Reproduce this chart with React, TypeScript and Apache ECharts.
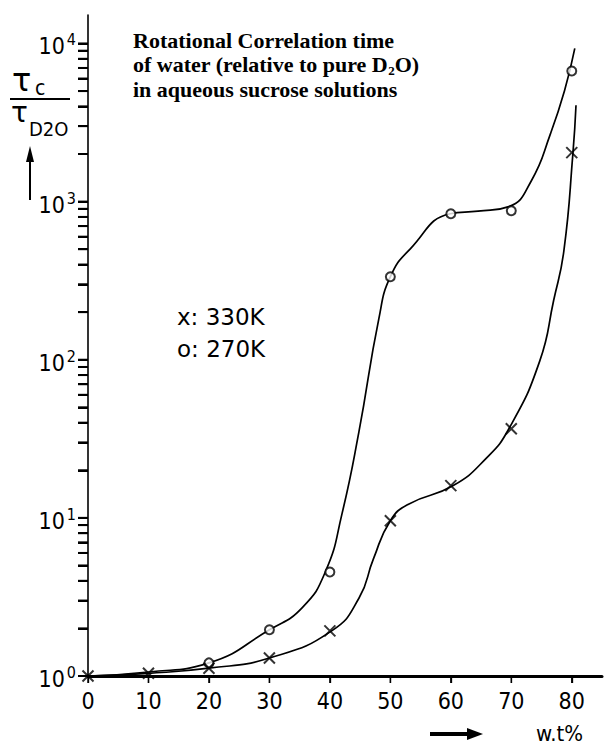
import React, { useEffect, useRef } from "react";
import * as echarts from "echarts";

// x axis (wt %) tick labels
const wtTicks = [0, 10, 20, 30, 40, 50, 60, 70, 80];
// y axis decades (exponent of 10)
const yDecades = [0, 1, 2, 3, 4];
// minor tick multipliers within each decade
const minorMult = [2, 3, 4, 5, 6, 7, 8, 9];

// measured points, 330 K (crosses)
const wt330 = [0, 10, 20, 30, 40, 50, 60, 70, 80];
const tau330 = [1.0, 1.04, 1.12, 1.3, 1.93, 9.6, 16, 36.6, 2040];

// measured points, 270 K (circles)
const wt270 = [20, 30, 40, 50, 60, 70, 80];
const tau270 = [1.21, 1.96, 4.55, 335, 838, 875, 6700];

// hand-drawn curves
const curve270Wt = [0, 10, 20, 30, 35.4, 39.3, 42, 44.8, 48.1, 50, 53.3, 59.9, 64.5, 69.6, 73.3, 76.5, 78.8, 80.5];
const curve270Tau = [1.0, 1.06, 1.21, 1.96, 2.7, 4.6, 10.6, 35, 182, 335, 503, 838, 870, 930, 1350, 2700, 5020, 9300];

const curve330Wt = [0, 10, 20, 30, 40.3, 44.8, 47.2, 50, 53, 60.4, 65.8, 69.6, 74.7, 77, 78.7, 80.2, 80.7];
const curve330Tau = [1.0, 1.04, 1.12, 1.3, 1.93, 3.1, 5.5, 9.6, 12.2, 16, 23.7, 36.6, 98, 237, 490, 2040, 4070];

const FONT = "DejaVu Sans Condensed, DejaVu Sans, sans-serif";
const SANS = "DejaVu Sans, sans-serif";
const SERIF = "Liberation Serif, DejaVu Serif, serif";

const lg = (v: number) => Math.log10(v);

const graphicEls: any[] = [
  {
    type: "text",
    x: 133,
    y: 28,
    style: {
      text: "Rotational Correlation time\nof water (relative to pure D{sub|2}O)\nin aqueous sucrose solutions",
      fontFamily: SERIF,
      fontWeight: "bold",
      fontSize: 22,
      lineHeight: 24.5,
      fill: "#000",
      verticalAlign: "top",
      rich: {
        sub: { fontFamily: SERIF, fontWeight: "bold", fontSize: 13, lineHeight: 14, verticalAlign: "bottom" },
      },
    },
  },
  { type: "text", x: 177, y: 316.5, style: { text: "x: 330K", fontFamily: SANS, fontSize: 23, fill: "#000", verticalAlign: "middle" } },
  { type: "text", x: 177, y: 348.5, style: { text: "o: 270K", fontFamily: SANS, fontSize: 23, fill: "#000", verticalAlign: "middle" } },
  // y-axis name: tau_c / tau_D2O with upward arrow
  { type: "text", x: 12, y: 80, style: { text: "τ", fontFamily: SANS, fontSize: 32, fill: "#000", verticalAlign: "middle" } },
  { type: "text", x: 35, y: 88, style: { text: "c", fontFamily: FONT, fontSize: 21, fill: "#000", verticalAlign: "middle" } },
  { type: "line", shape: { x1: 10, y1: 99, x2: 70, y2: 99 }, style: { stroke: "#000", lineWidth: 2 } },
  { type: "text", x: 11, y: 112, style: { text: "τ", fontFamily: SANS, fontSize: 28, fill: "#000", verticalAlign: "middle" } },
  { type: "text", x: 29, y: 129, style: { text: "D2O", fontFamily: FONT, fontSize: 20, fill: "#000", verticalAlign: "middle" } },
  { type: "line", shape: { x1: 30, y1: 158, x2: 30, y2: 200 }, style: { stroke: "#000", lineWidth: 2 } },
  { type: "polygon", shape: { points: [[26, 162], [34, 162], [30, 146]] }, style: { fill: "#000" } },
  // x-axis name with arrow
  { type: "line", shape: { x1: 430, y1: 734, x2: 470, y2: 734 }, style: { stroke: "#000", lineWidth: 4 } },
  { type: "polygon", shape: { points: [[467, 728], [483, 734], [467, 740]] }, style: { fill: "#000" } },
  { type: "text", x: 536, y: 733, style: { text: "w.t%", fontFamily: FONT, fontSize: 22, fill: "#000", verticalAlign: "middle" } },
];

function buildOption() {
  const yTickVals: number[] = [...yDecades];
  for (const d of [0, 1, 2, 3]) for (const k of minorMult) yTickVals.push(d + Math.log10(k));

  return {
    animation: false,
    grid: { left: 88, right: 2, top: 15, bottom: 66 },
    xAxis: {
      type: "value",
      min: 0,
      max: 85,
      interval: 10,
      axisLine: { show: true, lineStyle: { color: "#000", width: 3 } },
      axisTick: { show: true, customValues: wtTicks, length: 7, lineStyle: { color: "#000", width: 1.3 } },
      axisLabel: {
        color: "#000",
        fontFamily: FONT,
        fontSize: 23,
        margin: 13,
        formatter: (v: number) => (v % 10 === 0 ? String(v) : ""),
      },
      splitLine: { show: false },
    },
    yAxis: {
      type: "value",
      min: 0,
      max: 4.18,
      interval: 1,
      axisLine: { show: true, lineStyle: { color: "#000", width: 1.6 } },
      axisTick: { show: true, customValues: yTickVals, length: 10, lineStyle: { color: "#000", width: 2 } },
      axisLabel: {
        margin: 12,
        formatter: (v: number) => (Math.abs(v - Math.round(v)) < 1e-6 ? `{b|10}{s|${Math.round(v)}}` : ""),
        rich: {
          b: { fontFamily: FONT, fontSize: 23, lineHeight: 23, color: "#000", padding: [10, 0, 4, 0] },
          s: { fontFamily: FONT, fontSize: 16, lineHeight: 16, color: "#000", verticalAlign: "top", padding: [0, 0, 0, 2] },
        },
      },
      splitLine: { show: false },
    },
    series: [
      {
        type: "line",
        data: curve270Wt.map((x, i) => [x, lg(curve270Tau[i])]),
        smooth: 0.5,
        symbol: "none",
        lineStyle: { color: "#000", width: 1.7 },
        z: 2,
      },
      {
        type: "line",
        data: curve330Wt.map((x, i) => [x, lg(curve330Tau[i])]),
        smooth: 0.5,
        symbol: "none",
        lineStyle: { color: "#000", width: 1.7 },
        z: 2,
      },
      {
        type: "scatter",
        data: wt270.map((x, i) => [x, lg(tau270[i])]),
        symbol: "circle",
        symbolSize: 9,
        itemStyle: { color: "#fff", borderColor: "#000", borderWidth: 2 },
        z: 3,
      },
      {
        type: "scatter",
        data: wt330.map((x, i) => [x, lg(tau330[i])]),
        symbol: "path://M0,0L10,10M10,0L0,10",
        symbolSize: 11,
        itemStyle: { color: "rgba(0,0,0,0)", borderColor: "#000", borderWidth: 2 },
        z: 4,
      },
      // y-axis ticks (major and log-minor), placed through the axis scale
      {
        type: "custom",
        clip: false,
        silent: true,
        z: 6,
        data: yTickVals.map((v) => [0, v]),
        renderItem: (_p: any, api: any) => {
          const pt = api.coord([api.value(0), api.value(1)]);
          return { type: "rect", shape: { x: pt[0] - 10, y: pt[1] - 1, width: 10, height: 2 }, style: { fill: "#000" } };
        },
      },
      // x-axis ticks
      {
        type: "custom",
        clip: false,
        silent: true,
        z: 6,
        data: wtTicks.map((v) => [v, 0]),
        renderItem: (_p: any, api: any) => {
          const pt = api.coord([api.value(0), api.value(1)]);
          return { type: "rect", shape: { x: pt[0] - 0.7, y: pt[1], width: 1.4, height: 7 }, style: { fill: "#000" } };
        },
      },
    ],
  };
}

export default function App() {
  const ref = useRef<HTMLDivElement>(null);
  useEffect(() => {
    const chart = echarts.init(ref.current!, null, { renderer: "svg" });
    chart.setOption(buildOption() as any);
    chart.setOption({ graphic: graphicEls } as any);
    return () => chart.dispose();
  }, []);
  return (
    <div
      ref={ref}
      style={{ position: "fixed", left: 0, top: 0, width: 605, height: 742, background: "#fff" }}
    />
  );
}
